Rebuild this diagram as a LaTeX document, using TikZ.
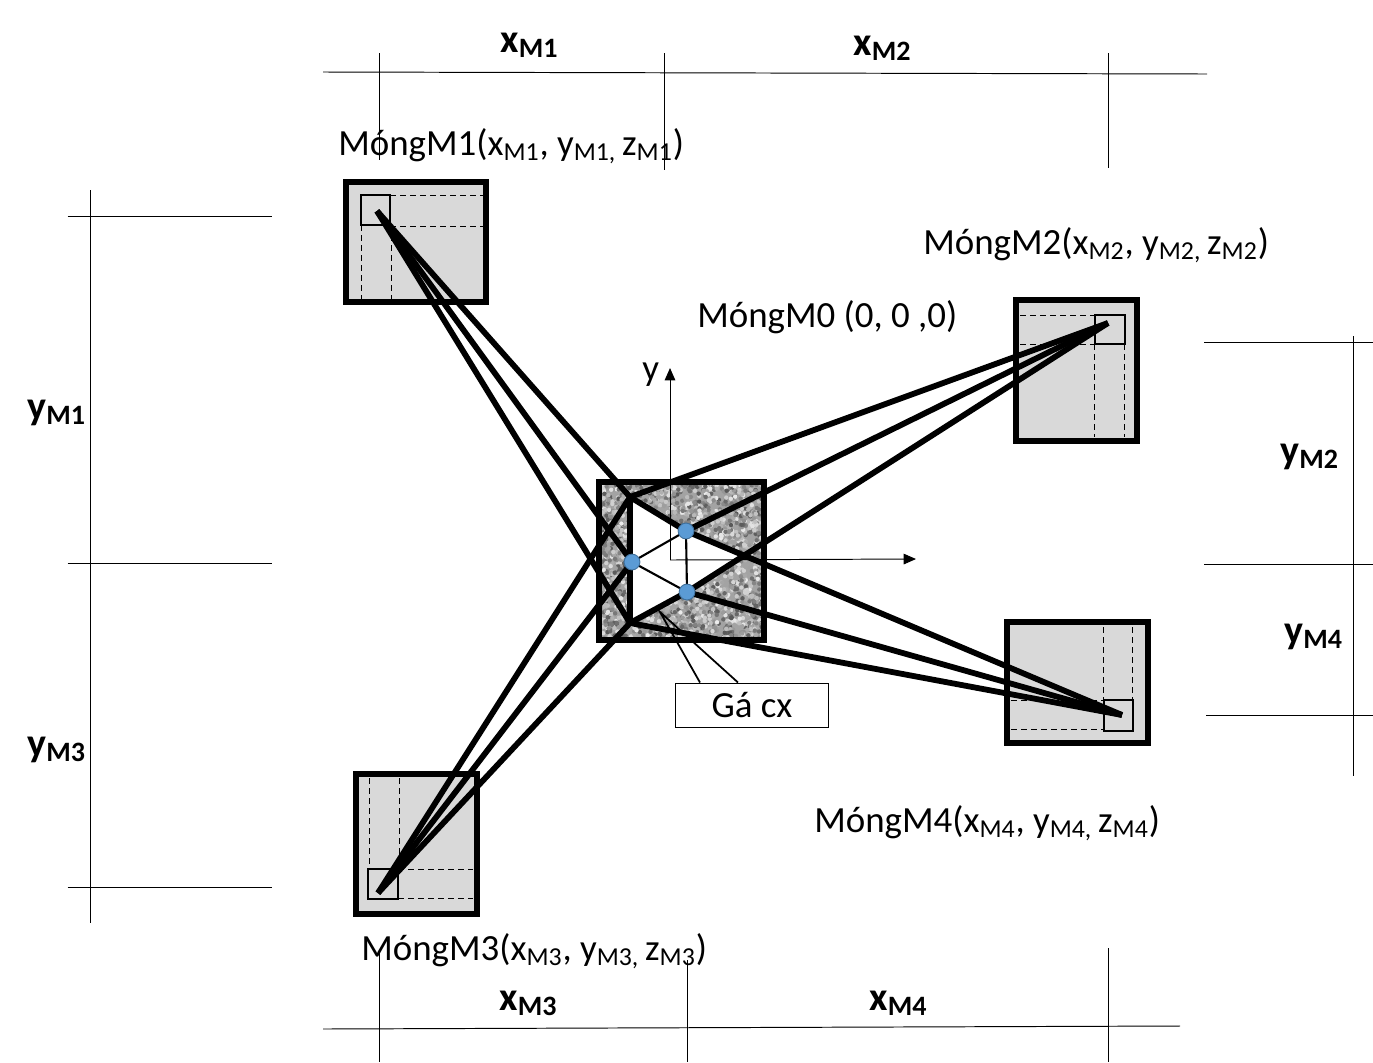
\documentclass[tikz,border=0pt]{standalone}
\usepackage{fontspec}
\setmainfont{Carlito}
\usetikzlibrary{arrows.meta,positioning}
\tikzset{
  dimline/.style={line width=0.55pt},
  footing/.style={draw, line width=3.4pt, fill=black!15},
  column/.style={draw, line width=1.1pt},
  hidden/.style={dashed, line width=0.55pt, dash pattern=on 3.4pt off 2.3pt},
  brace/.style={line width=3.3pt},
  thinbar/.style={line width=1.2pt},
  hub/.style={circle, fill=hubblue, draw=hubedge, line width=0.5pt, minimum size=9pt, inner sep=0pt},
  dimlabel/.style={font=\fontsize{22.8}{22.8}\selectfont\bfseries, anchor=base west, inner sep=0pt},
  mong/.style={font=\fontsize{21}{21}\selectfont, anchor=base west, inner sep=0pt},
}
\definecolor{hubblue}{HTML}{5B9BD5}
\definecolor{hubedge}{HTML}{41719C}
\begin{document}
\begin{tikzpicture}[x=0.02cm, y=-0.02cm, >={Triangle[length=7pt,width=6pt]}]
  \useasboundingbox (0,0) rectangle (1373,1062);
  % dimension lines, top and bottom
  \draw[dimline] (323,72) -- (1207,74);
  \foreach \xpos/\yend in {379/160, 664.5/170, 1108/168}
    \draw[dimline] (\xpos,53) -- (\xpos,\yend);
  \draw[dimline] (323,1029) -- (1180,1026);
  \foreach \xpos/\ystart in {379/950, 687/960, 1108/948}
    \draw[dimline] (\xpos,\ystart) -- (\xpos,1062);
  % dimension lines, left and right
  \draw[dimline] (90.5,190) -- (90.5,923);
  \foreach \ypos in {216, 563, 887}
    \draw[dimline] (67.5,\ypos) -- (272,\ypos);
  \draw[dimline] (1353.5,336) -- (1353.5,776);
  \foreach \ypos/\xstart in {342/1204, 564/1204, 715/1206}
    \draw[dimline] (\xstart,\ypos) -- (1373,\ypos);
  % footing M1
  \draw[footing] (346,182) rectangle (486,302);
  \foreach \ypos in {195, 226}
    \draw[hidden] (390,\ypos) -- (483,\ypos);
  \foreach \xpos in {361, 391}
    \draw[hidden] (\xpos,225) -- (\xpos,299);
  \draw[column] (361,195) rectangle (390,225);
  % footing M2
  \draw[footing] (1016,300) rectangle (1137,441);
  \foreach \ypos in {315, 344}
    \draw[hidden] (1020,\ypos) -- (1095,\ypos);
  \foreach \xpos in {1094, 1124}
    \draw[hidden] (\xpos,344) -- (\xpos,437);
  \draw[column] (1095,315) rectangle (1125,344);
  % footing M3
  \draw[footing] (356,774) rectangle (477,914);
  \foreach \xpos in {369, 399}
    \draw[hidden] (\xpos,778) -- (\xpos,869);
  \foreach \ypos in {869, 898}
    \draw[hidden] (398,\ypos) -- (473,\ypos);
  \draw[column] (368,869) rectangle (398,899);
  % footing M4
  \draw[footing] (1007,622) rectangle (1148,743);
  \foreach \xpos in {1103, 1132}
    \draw[hidden] (\xpos,627) -- (\xpos,700);
  \foreach \ypos in {700, 729}
    \draw[hidden] (1011,\ypos) -- (1104,\ypos);
  \draw[column] (1104,700) rectangle (1133,731);
  % footing M0, mottled
  \fill[black!36] (599,482) rectangle (764,640);
  \begin{scope}
    \clip (599,482) rectangle (764,640);
    \pgfmathsetseed{17}
    \foreach \i in {1,...,2400} {
      \pgfmathsetmacro\xdot{599+165*rnd}
      \pgfmathsetmacro\ydot{482+158*rnd}
      \pgfmathsetmacro\shadeval{int(8+58*rnd)}
      \fill[black!\shadeval] (\xdot,\ydot) circle (1.25pt);
    }
  \end{scope}
  \coordinate (cornerA) at (630,497);
  \coordinate (cornerC) at (630,623);
  \coordinate (cross) at (745,558);
  \coordinate (tipM1) at (377,211);
  \coordinate (tipM2) at (1108,323);
  \coordinate (tipM3) at (378,893);
  \coordinate (tipM4) at (1122,715);
  \node[hub] (hubL) at (632,562) {};
  \node[hub] (hubT) at (686,531) {};
  \node[hub] (hubB) at (687,592) {};
  \fill[white] (cornerA) -- (hubT.center) -- (cross) -- (hubB.center) -- (cornerC) -- cycle;
  % callout
  \node[draw, fill=white, line width=1pt, minimum width=87pt, minimum height=25pt, inner sep=0pt,
        font=\fontsize{21}{21}\selectfont] (gacx) at (752,705.5) {Gá cx};
  \coordinate (calltip) at (660,612);
  \draw[line width=1pt] (700,682.5) -- (calltip) -- (738,682.5);
  \draw[line width=3.4pt] (599,482) rectangle (764,640);
  % axes
  \coordinate (origin) at (670,560);
  \draw[->, dimline] (origin) -- (670,368);
  \draw[->, dimline] (origin) -- (916,559);
  % bars
  \foreach \from in {cornerA, hubL.center, cornerC} {
    \draw[brace] (tipM1) -- (\from);
    \draw[brace] (tipM3) -- (\from);
  }
  \foreach \from in {cornerA, hubT.center, hubB.center} \draw[brace] (tipM2) -- (\from);
  \foreach \from in {cornerC, hubT.center, hubB.center} \draw[brace] (tipM4) -- (\from);
  \draw[brace] (cornerA) -- (cornerC) (cornerA) -- (hubT.center) (cornerC) -- (hubB.center);
  \draw[thinbar] (hubL.center) -- (hubT.center) -- (hubB.center) -- cycle;
  \node[hub] at (hubL) {};
  \node[hub] at (hubT) {};
  \node[hub] at (hubB) {};
  % labels
  \node[mong] (labelM0) at (697,327) {MóngM0 (0, 0 ,0)};
  \node[mong] (labelM1) at (338,155) {MóngM1(x\textsubscript{M1}, y\textsubscript{M1, }z\textsubscript{M1})};
  \node[mong] (labelM2) at (923,254) {MóngM2(x\textsubscript{M2}, y\textsubscript{M2, }z\textsubscript{M2})};
  \node[mong] (labelM3) at (361,960) {MóngM3(x\textsubscript{M3}, y\textsubscript{M3, }z\textsubscript{M3})};
  \node[mong] (labelM4) at (814,832) {MóngM4(x\textsubscript{M4}, y\textsubscript{M4, }z\textsubscript{M4})};
  \node[mong] (labelY) at (642,380) {y};
  \node[dimlabel] (dimXM1) at (500,52) {x\textsubscript{M1}};
  \node[dimlabel] (dimXM2) at (853,55) {x\textsubscript{M2}};
  \node[dimlabel] (dimXM3) at (499,1010) {x\textsubscript{M3}};
  \node[dimlabel] (dimXM4) at (869,1010) {x\textsubscript{M4}};
  \node[dimlabel] (dimYM1) at (27,419) {y\textsubscript{M1}};
  \node[dimlabel] (dimYM3) at (27,756) {y\textsubscript{M3}};
  \node[dimlabel] (dimYM2) at (1280,463) {y\textsubscript{M2}};
  \node[dimlabel] (dimYM4) at (1284,643) {y\textsubscript{M4}};
\end{tikzpicture}
\end{document}
